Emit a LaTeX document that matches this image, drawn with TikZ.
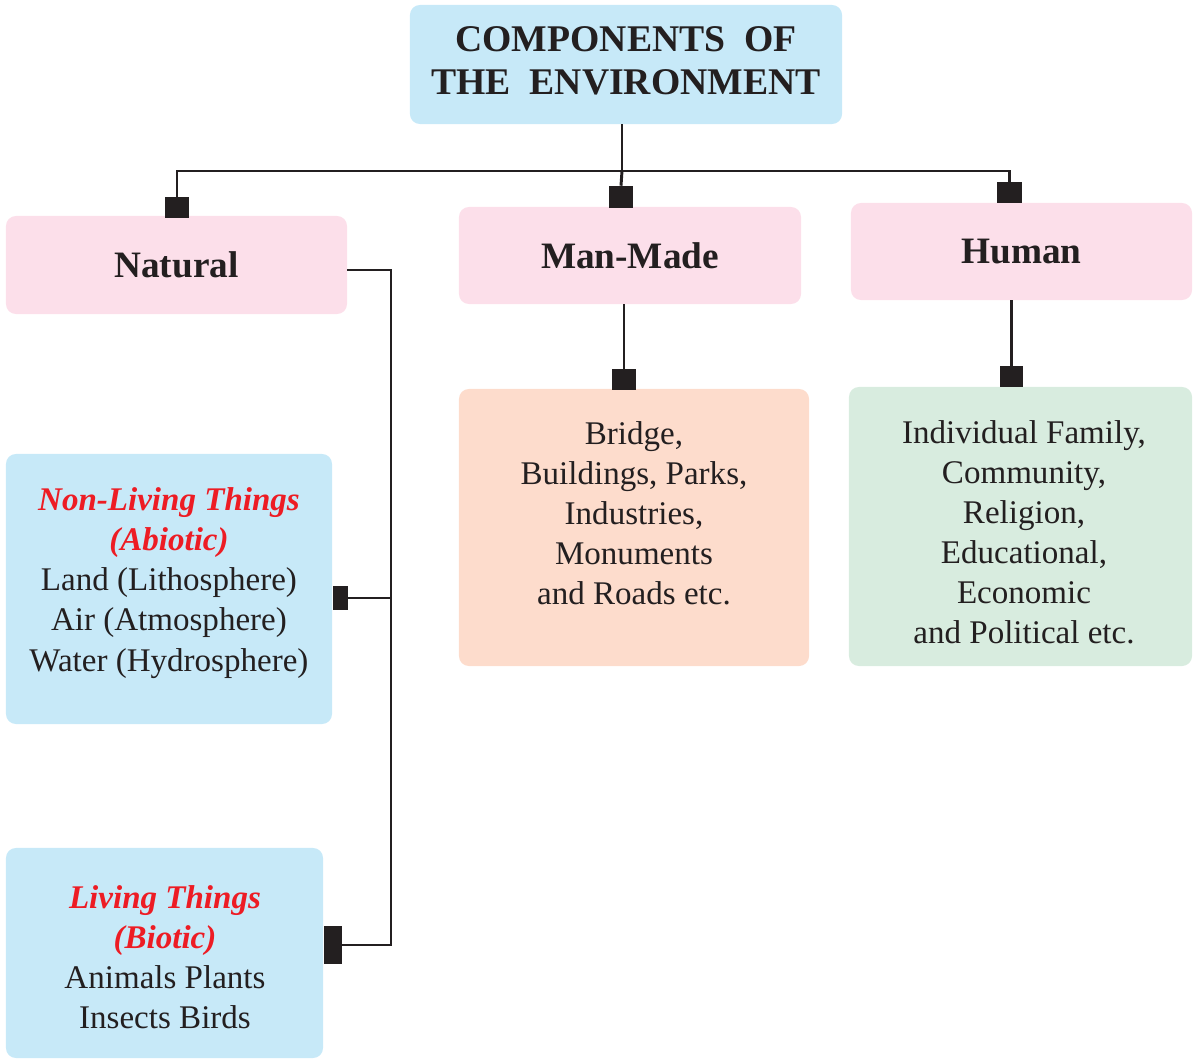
\documentclass[tikz,border=0pt]{standalone}
\usepackage{fontspec}
\setmainfont{Liberation Serif}
\usetikzlibrary{positioning}
\definecolor{inkdark}{HTML}{231F20}
\definecolor{skyfill}{HTML}{C7E9F8}
\definecolor{pinkfill}{HTML}{FCDFEA}
\definecolor{peachfill}{HTML}{FDDCCC}
\definecolor{mintfill}{HTML}{D8ECDF}
\definecolor{titlered}{HTML}{ED1C24}
\tikzset{
  panel/.style={rectangle, rounded corners=0.25cm, inner sep=0pt, text=inkdark},
  headtext/.style={font=\bfseries\fontsize{26.5}{27}\selectfont, text=inkdark},
  bodytext/.style={font=\fontsize{23.5}{28.5}\selectfont, text=inkdark, align=center, inner sep=0pt},
  jointcap/.style={rectangle, fill=inkdark, inner sep=0pt},
  link/.style={draw=inkdark, line width=2.1pt}
}
\begin{document}
\begin{tikzpicture}[x=0.025cm, y=-0.025cm]
\useasboundingbox (0,0) rectangle (1193,1060);
% Top box
\node[panel, fill=skyfill, minimum width=10.8cm, minimum height=2.975cm] (top) at (626,64.5) {};
\node[align=center, inner sep=0pt, text=inkdark,
      font=\bfseries\fontsize{26.8}{31}\selectfont] (toptext) at (626,61)
  {COMPONENTS\ \ OF\\THE\ \ ENVIRONMENT};
% Second row
\node[panel, fill=pinkfill, minimum width=8.525cm, minimum height=2.45cm, headtext] (natural) at (176.5,265) {Natural};
\node[panel, fill=pinkfill, minimum width=8.55cm, minimum height=2.425cm, headtext] (manmade) at (630,255.5) {Man-Made};
\node[panel, fill=pinkfill, minimum width=8.525cm, minimum height=2.425cm, headtext] (human) at (1021.5,251.5) {Human};
% Item boxes
\node[panel, fill=skyfill, minimum width=8.15cm, minimum height=6.75cm] (nonliving) at (169,589) {};
\node[panel, fill=skyfill, minimum width=7.925cm, minimum height=5.25cm] (living) at (164.5,953) {};
\node[panel, fill=peachfill, minimum width=8.75cm, minimum height=6.925cm] (mmitems) at (634,527.5) {};
\node[panel, fill=mintfill, minimum width=8.575cm, minimum height=6.975cm] (humitems) at (1020.5,526.5) {};
% Item texts
\node[bodytext] (nonlivingtext) at (169,583)
  {{\color{titlered}\bfseries\itshape Non-Living Things}\\{\color{titlered}\bfseries\itshape (Abiotic)}\\Land (Lithosphere)\\Air (Atmosphere)\\Water (Hydrosphere)};
\node[bodytext] (livingtext) at (165,957)
  {{\color{titlered}\bfseries\itshape Living Things}\\{\color{titlered}\bfseries\itshape (Biotic)}\\Animals Plants\\Insects Birds};
\node[bodytext] (mmtext) at (634,513)
  {Bridge,\\Buildings, Parks,\\Industries,\\Monuments\\and Roads etc.};
\node[bodytext] (humtext) at (1024,532)
  {Individual Family,\\Community,\\Religion,\\Educational,\\Economic\\and Political etc.};
% Caps
\node[jointcap, minimum width=0.6cm, minimum height=0.525cm] (capnat) at (177,207.5) {};
\node[jointcap, minimum width=0.6cm, minimum height=0.55cm] (capmm) at (621,197) {};
\node[jointcap, minimum width=0.625cm, minimum height=0.525cm] (caphum) at (1009.5,192.5) {};
\node[jointcap, minimum width=0.6cm, minimum height=0.525cm] (capmmd) at (624,379.5) {};
\node[jointcap, minimum width=0.575cm, minimum height=0.525cm] (caphumd) at (1011.5,376.5) {};
\node[jointcap, minimum width=0.375cm, minimum height=0.6cm] (capnl) at (340.5,598) {};
\node[jointcap, minimum width=0.45cm, minimum height=0.95cm] (capliv) at (333,945) {};
% Connectors
\coordinate (split) at (622,171);
\coordinate (nbend) at (391,270);
\draw[link] (split |- top.south) -- (split);
\draw[link] (capnat.north) |- (split) -| (caphum.north);
\draw[link] (split) -- (capmm.north);
\draw[link] (natural.east |- nbend) -- (nbend) |- (capliv.east);
\draw[link] (capnl.east) -- (capnl.east -| nbend);
\draw[link] (capmmd.north |- manmade.south) -- (capmmd.north);
\draw[link] (caphumd.north |- human.south) -- (caphumd.north);
\end{tikzpicture}
\end{document}
